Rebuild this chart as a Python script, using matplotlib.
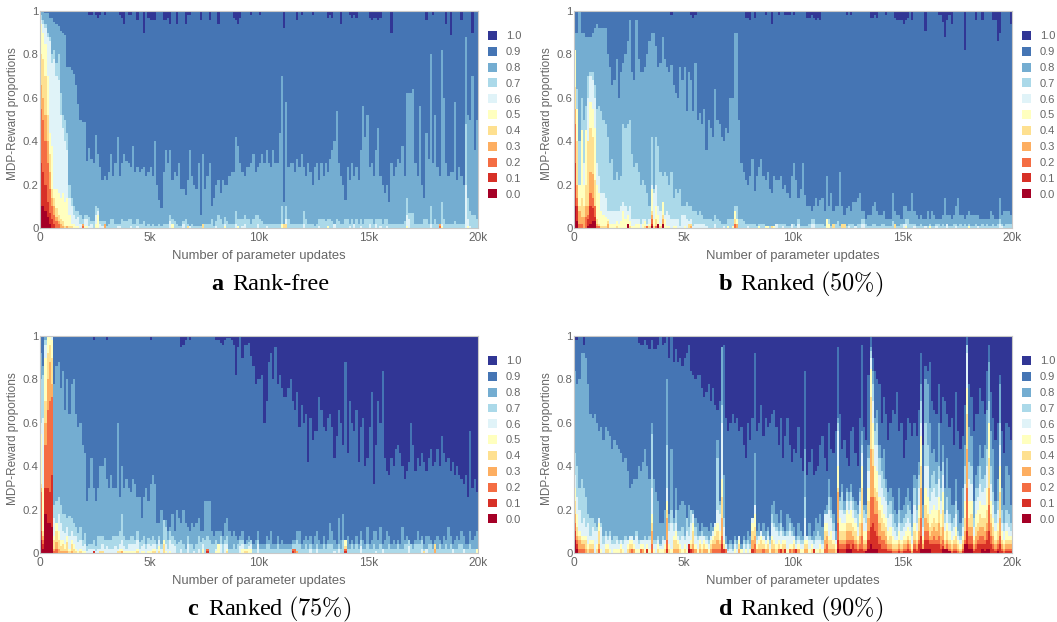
import numpy as np
import matplotlib
matplotlib.use("Agg")
import matplotlib.pyplot as plt
from matplotlib.patches import Patch

plt.rcParams['font.family'] = ['Liberation Sans', 'DejaVu Sans']
plt.rcParams['mathtext.fontset'] = 'cm'

LEVELS = ['0.0', '0.1', '0.2', '0.3', '0.4', '0.5', '0.6', '0.7', '0.8', '0.9', '1.0']
COLORS = ['#a50026', '#d73027', '#f46d43', '#fdae61', '#fee090', '#ffffbf',
          '#e0f3f8', '#abd9e9', '#74add1', '#4575b4', '#313695']
X_TICKS = [0, 5000, 10000, 15000, 20000]
X_LABELS = ['0', '5k', '10k', '15k', '20k']
Y_TICKS = [0, 0.2, 0.4, 0.6, 0.8, 1]
Y_LABELS = ['0', '0.2', '0.4', '0.6', '0.8', '1']
N_COLS = 200
STEP = 100


def col(head=(), cols=(), vals=(), default=0):
    out = [default] * N_COLS
    out[:len(head)] = list(head)
    for c, v in zip(cols, vals):
        out[c] = v
    return out


# ---------- panel a: top of each reward band, percent, per 100 updates ----------
a_t09 = col(default=100,
    cols=[22,23,25,26,27,29,36,37,38,40,41,44,47,49,50,51,52,56,57,58,59,62,66,67,68,73,77,81,88,89,90,91,96,100,111,117,119,124,131,132,133,137,141,142,143,144,150,151,152,153,154,155,160,176,179,185,187,192,197],
    vals=[98,98,98,97,98,98,98,97,94,98,98,96,90,97,96,96,96,96,96,97,94,94,94,98,98,96,96,94,97,96,94,97,98,98,92,96,98,98,97,98,97,94,98,97,98,97,97,96,97,97,96,97,90,96,98,94,89,96,90])
a_t08 = [100,100,99,99,97,97,95,94,93,91,90,89,74,74,73,71,66,57,50,49,
         49,31,37,32,30,43,34,28,22,24,22,26,34,24,30,42,24,30,34,31,
         30,28,38,26,28,26,27,28,24,26,28,24,40,20,13,9,26,36,30,36,
         22,26,24,30,18,18,15,22,36,24,20,18,30,6,34,18,24,30,10,14,
         20,22,16,22,20,20,24,26,26,42,38,30,26,24,28,28,30,34,26,28,
         30,34,30,36,30,28,36,30,30,44,70,12,58,28,30,30,26,32,28,34,
         28,24,30,26,20,28,30,22,30,24,30,26,32,36,40,54,30,24,20,13,
         28,22,30,24,28,22,36,56,42,52,28,30,24,36,46,24,20,16,20,12,
         30,24,28,32,30,38,24,62,62,62,64,30,24,56,20,14,44,32,80,30,
         52,28,24,82,60,30,24,26,26,58,22,28,24,20,88,52,50,70,36,50]
a_t07 = [98,96,94,90,88,80,82,76,80,62,52,50,44,20,14,10,8,8,6,4,
         6,6,5,3,3,10,9,3,3,3,1,2,4,4,2,2,2,4,3,3,
         4,4,2,2,4,2,2,3,1,2,1,2,1,1,2,1,2,2,2,6,
         4,3,2,1,1,3,4,2,1,2,1,1,1,1,2,2,2,2,4,1,
         3,6,4,2,5,3,2,2,2,8,4,4,4,6,4,4,2,4,6,6,
         4,3,2,2,2,2,2,2,2,2,10,2,10,4,2,2,2,2,2,2,
         8,4,2,2,2,1,2,4,4,4,3,4,4,3,2,4,3,2,2,4,
         4,2,4,2,4,2,4,2,4,4,4,4,2,4,4,4,2,4,4,2,
         2,2,2,2,2,2,3,14,7,7,7,2,2,2,2,4,4,2,10,2,
         4,2,2,12,4,2,2,2,2,3,2,2,2,2,48,14,8,6,6,4]
a_t06 = col([96,94,92,88,86,76,78,70,68,52,46,40,36,14,10,6,4,5,2,1,4,4,1,2,0,6,8,2,1],
    cols=[35,36,41,44,59,65,68,74,80,84,89,92,93,99,103,110,112,120,127,131,134,141,143,146,150,153,155,158,167,168,178,183,194,195,196],
    vals=[1,1,1,1,3,2,1,1,1,2,2,1,2,2,1,2,4,2,1,1,2,1,2,1,2,2,1,1,6,4,2,2,20,4,1])
a_t05 = col([94,90,85,70,44,38,18,18,16,14,16,12,14,6,2,2,1,1,0,0,1,1,0,0,0,2,6],
    cols=[60,67,74,84,90,110,112,131,167,183,195], vals=[2,1,2,1,1,2,2,1,1,1,1])
a_t04 = col([80,78,70,52,34,18,14,9,6,4,3,1,1,1,1,0,0,0,0,2],
    cols=[29,67,74,111,112,182], vals=[2,1,2,2,2,2])
a_t03 = col([66,60,52,40,26,14,10,5,3,2,1,0,1,0,0,0,0,0,0,2], cols=[29,182], vals=[2,2])
a_t02 = col([55,50,40,30,18,10,6,3,2,0,0,0,0,0,0,0,0,0,0,1], cols=[182], vals=[1])
a_t01 = col([30,26,20,12,7,4,2])
a_t00 = col([10,10,8,5,2])

# ---------- panel b ----------
b_t09 = col(default=100,
    cols=[44,53,54,55,78,79,80,82,87,90,93,96,97,98,100,106,107,108,109,110,111,112,124,126,135,136,137,138,142,146,147,148,149,150,151,152,154,160,166,167,168,169,170,171,172,178,183,186,191,192,193,194,199],
    vals=[98,98,97,98,97,97,96,97,98,94,98,98,98,98,98,97,97,98,97,96,97,96,98,98,97,97,98,97,98,97,96,96,96,94,96,97,96,91,98,98,95,88,96,98,94,82,96,96,96,96,86,90,94])
b_t08 = [90,90,100,90,90,88,88,88,90,92,94,92,92,92,92,80,74,66,68,78,
         60,72,76,80,86,96,72,68,96,78,72,72,74,80,86,90,90,84,74,76,
         88,78,74,72,75,66,62,60,74,68,74,54,72,68,54,76,50,53,48,55,
         36,50,46,42,64,50,48,42,40,46,44,60,60,90,90,50,30,26,22,20,
         24,32,17,24,28,32,24,22,26,18,16,24,22,22,24,18,20,16,14,24,
         30,22,14,18,30,15,10,10,8,10,14,10,13,14,8,24,10,16,8,10,
         10,26,10,6,9,10,8,12,12,14,16,8,8,4,6,6,10,12,8,6,
         6,8,4,4,4,16,8,6,6,4,10,10,8,8,16,8,6,4,6,4,
         4,8,4,8,6,4,4,4,6,14,6,6,4,6,10,14,6,6,4,6,
         8,6,6,6,6,4,4,4,4,4,8,6,4,4,14,6,8,8,8,6]
b_t07 = [65,64,40,60,50,56,70,72,72,66,55,56,54,50,48,42,30,32,22,26,
         22,24,48,46,48,50,34,28,30,26,20,22,20,16,10,42,18,42,38,26,
         24,26,24,20,26,14,18,16,18,10,10,12,10,10,8,8,6,8,6,4,
         4,4,4,3,6,4,3,2,2,2,4,4,4,10,10,4,4,3,2,2,
         2,2,2,1,2,2,2,1,1,1,1,1,1,2,2,2,2,1,1,2,
         2,1,4,1,1,1,1,2,4,4,2,2,2,2,1,2,4,1,1,2,
         3,1,1,1,1,2,2,2,1,2,2,4,4,2,1,1,2,2,1,1,
         2,2,1,1,1,3,2,1,1,2,2,4,4,2,2,2,1,1,2,1,
         1,1,2,1,1,2,2,1,2,1,2,1,1,2,2,1,2,1,2,1,
         2,1,1,2,1,1,2,1,2,1,1,2,1,2,4,2,1,2,2,2]
b_t06 = col([46,44,16,40,30,36,60,70,68,60,30,24,16,16,14,8,8,8,8,8,
             8,10,12,10,8,10,4,4,4,4,2,4,4,2,4,20,16,20,10,8,
             8,6,8,6,4,4,4,4,1,6,6,4,3,4,1,2,2,2,2,2],
    cols=[60,64,68,70,73,74,79,84,88,92,95,99,102,108,109,115,116,125,128,131,132,146,150,151,155,160,165,170,174,184,194,195],
    vals=[1,2,1,1,6,4,1,1,1,2,1,2,2,2,2,1,2,1,1,2,2,1,2,2,1,1,1,2,1,1,2,1])
b_t05 = col([82,55,20,45,20,45,40,58,55,46,20,16,8,6,5,4,2,2,2,3,
             2,3,8,4,6,3,1,1,2,2,0,2,3,1,2,18,4,10,6,2,12,4,1,1,0,1,1],
    cols=[50,52,70,72,73,74,84,87,88,91,115,116,146,151,162,180], vals=[1,1,1,1,8,4,1,1,1,1,4,2,2,1,1,1])
b_t04 = col([65,40,10,14,10,20,40,46,42,22,4,2,1,1,1,3,0,0,0,1,0,0,0,0,1,1,0,0,0,0,0,0,1,1,1,8,1,4,2,1,6],
    cols=[52,53,73,74,90,118,122,123,146], vals=[2,2,4,2,1,2,2,2,2])
b_t03 = col([55,20,8,5,5,10,10,26,25,10,2,1,0,0,0,2,0,0,0,0,0,0,0,0,1,0,0,0,0,0,0,0,0,1,0,6,0,1,1,0,4],
    cols=[53,73,74], vals=[1,2,2])
b_t02 = col([48,14,2,2,0,5,6,16,14,10,1,1,0,0,0,0,0,0,0,0,0,0,0,0,1,0,0,0,0,0,0,0,0,1,0,4,0,1,1,0,2],
    cols=[73], vals=[2])
b_t01 = col([30,10,0,0,0,0,4,10,9,5,0,0,0,0,0,0,0,0,0,0,0,0,0,0,1,0,0,0,0,0,0,0,0,0,0,2,0,0,1,0,2])
b_t00 = col([10,3,0,0,0,0,1,2,3,3], cols=[24,35,38,40], vals=[2,1,2,2])

# ---------- panel c ----------
c_t09 = [100]*24 + [98] + [100]*5 + [98] + [100]*19 + [98] + [100]*9 + [
         100,100,100,100,95,96,98,100,98,100,100,100,100,100,100,100,100,100,100,100,
         98,98,97,96,98,99,99,98,96,82,95,100,90,96,96,97,91,86,78,80,
         80,82,60,70,88,92,80,95,78,82,76,72,72,76,80,70,66,74,58,68,
         60,64,42,62,52,56,56,72,66,58,56,62,64,58,44,54,66,60,50,88,
         46,70,60,56,66,42,58,62,40,44,58,74,32,50,70,60,84,44,38,36,
         44,40,48,50,46,40,34,38,42,60,50,38,44,40,46,42,38,44,48,40,
         42,48,40,54,46,42,44,38,42,36,40,36,34,32,36,26,56,30,34,28]
c_t08 = [92,86,100,100,100,100,78,86,88,76,84,66,80,64,78,80,64,58,60,50,
         46,24,30,44,30,24,30,40,40,44,34,30,36,30,30,60,26,40,30,34,
         30,28,34,32,26,26,16,26,30,24,32,36,32,14,14,20,14,15,10,12,
         18,10,20,16,14,20,14,12,10,14,12,14,16,10,10,24,24,24,10,8,
         10,10,10,8,14,16,10,8,10,8,6,8,10,4,6,8,6,4,6,10,
         4,4,4,8,6,10,4,4,8,4,6,4,4,4,4,6,6,10,10,4,
         6,8,6,8,4,8,10,6,4,8,4,6,14,10,6,4,16,6,18,4,
         8,4,6,4,8,4,10,6,4,12,4,6,10,10,6,12,4,6,10,8,
         4,6,4,6,4,12,6,8,6,4,4,6,10,6,8,4,8,8,6,4,
         6,8,6,4,8,6,12,8,4,6,8,6,10,8,4,4,10,6,8,10]
c_t07 = [80,82,98,100,100,100,22,24,26,22,18,18,16,17,16,14,12,9,12,6,
         9,3,4,4,6,3,8,8,8,6,6,6,6,8,8,8,10,18,8,6,
         6,8,8,6,10,5,6,8,4,7,6,8,6,4,8,4,15,12,6,10,
         8,6,4,5,6,4,2,8,4,4,2,4,8,5,7,6,8,6,4,4,
         6,4,8,4,6,8,2,2,4,2,4,6,6,4,4,5,6,2,2,6,
         2,2,2,4,4,2,2,2,4,2,2,2,2,2,2,4,4,6,4,2,
         2,4,2,4,2,2,4,2,2,4,2,4,4,4,2,2,4,2,6,2,
         2,2,4,2,4,2,6,2,2,4,2,2,4,2,2,4,2,2,2,4,
         2,2,2,4,2,2,4,4,6,4,2,4,4,4,6,2,2,4,4,2,
         2,2,4,2,2,4,2,4,2,2,2,4,4,2,2,2,4,2,2,2]
c_t06 = col([60,62,96,100,100,100,16,14,18,14,10,9,12,8,10,8,8,5,6,3,
             4,1,2,2,2,1,2,2,4,2,3,2,2,2,3,2,4,6,3,2,
             4,4,4,4,6,2,3,4,2,4,3,4,4,2,6,2,4,4,2,6],
    cols=[60,61,64,67,70,72,74,76,80,82,84,85,91,92,95,96,99,115,116,123,126,134,136,146,153,156,168,174,176,188,193],
    vals=[4,3,2,4,1,2,4,2,2,4,4,4,3,4,3,4,4,2,2,2,2,1,2,3,1,2,3,2,2,2,2])
c_t05 = col([55,30,90,100,100,98,8,14,10,6,6,4,8,2,6,4,2,1,2,1,
             1,0,0,0,1,0,0,1,1,0,0,0,0,0,0,1,2,2,1,1,
             1,1,1,1,2,0,1,1,0,1,1,2,2,0,3,0,6,1,0,1],
    cols=[74,76,80,81,85,92,93,94,95,96,115,116,139,175,180,199], vals=[2,1,1,4,2,2,2,2,2,2,1,1,6,1,4,2])
c_t04 = col([32,10,70,92,96,90,6,10,6,3,4,2,5,1,4,2,1,0,1,0,0,0,0,0,0,0,0,1,1,0,0,0,0,0,0,1,1,1,0,0,
             0,0,0,0,1,0,0,0,0,0,0,1,1,0,1,0,4],
    cols=[76,85,93,94,115,116,139,175,180], vals=[1,1,1,1,1,1,3,1,4])
c_t03 = col([30,8,60,80,88,78,2,5,2,1,1,1,1,0,1,0,0,0,0,0,0,0,0,0,1,0,0,0,0,0,0,0,0,0,0,0,0,1,0,0],
    cols=[76,115,116,117,139,180], vals=[1,2,2,1,2,2])
c_t02 = col([28,6,50,66,70,72,1,2,0,0,0,0,0,0,0,0,0,0,0,0,0,0,0,0,1], cols=[76,115,116,139], vals=[2,2,2,2])
c_t01 = col([10,4,30,30,28,36], cols=[24,76,115,139], vals=[1,1,1,1])
c_t00 = col([6,2,18,14,14,12])

# ---------- panel d ----------
d_t09 = [98,98,100,100,96,100,100,100,100,100,100,100,100,100,100,100,100,100,100,100,
         100,100,100,100,100,100,100,100,100,97,96,96,98,96,94,98,94,94,96,100,
         96,97,100,90,100,88,94,88,90,86,90,92,96,84,82,80,82,82,76,72,
         74,78,70,76,68,66,70,95,96,62,56,60,64,60,62,56,58,50,44,60,
         52,62,92,56,60,68,54,62,58,60,64,66,58,50,62,44,54,62,50,42,
         48,46,58,44,38,84,36,42,48,36,38,40,50,54,44,38,60,48,46,56,
         95,64,48,52,44,40,56,58,46,40,62,96,58,52,82,100,90,84,80,78,
         60,72,64,52,60,66,64,74,56,60,44,52,62,60,54,60,54,66,92,50,
         86,84,88,70,66,64,78,60,72,70,64,58,62,50,74,56,48,54,68,100,
         78,72,56,64,64,76,70,64,84,96,74,62,52,60,82,56,46,60,58,52]
d_t08 = [84,78,80,92,92,90,78,64,62,64,60,56,58,52,58,56,54,48,52,50,
         48,46,42,44,38,30,32,34,34,40,38,42,48,40,34,60,34,28,24,14,
         14,20,80,18,48,16,30,20,22,24,22,14,22,16,20,16,14,10,14,12,
         12,10,14,12,12,52,24,95,36,8,4,6,4,8,6,6,4,8,6,10,
         8,10,46,10,14,10,14,10,12,8,22,24,18,14,20,12,10,18,16,14,
         12,8,14,10,8,48,8,14,8,10,16,14,18,12,20,22,34,26,18,10,
         62,26,32,24,30,28,32,26,24,22,30,56,22,22,50,95,84,62,66,50,
         44,48,34,28,30,26,20,18,30,20,22,26,30,24,18,36,34,42,78,22,
         80,78,60,46,48,42,60,38,50,30,44,30,22,22,34,20,14,30,50,96,
         58,54,24,36,40,50,44,50,66,88,56,48,24,34,78,30,22,40,36,22]
d_t07 = [46,40,30,34,30,26,18,16,16,14,12,10,14,8,10,8,10,6,8,8,
         6,4,6,8,4,6,4,6,10,6,6,6,8,6,8,55,6,6,8,4,
         8,6,50,14,20,14,20,10,10,12,8,16,12,20,18,12,8,8,10,8,
         8,6,8,8,8,44,22,68,16,4,2,4,2,6,4,4,2,6,4,6,
         4,6,22,8,8,6,8,6,10,6,18,14,12,10,14,10,8,10,14,10,
         8,6,8,6,6,26,4,8,4,6,8,10,8,6,16,16,26,20,14,6,
         60,24,28,20,28,24,28,24,20,18,28,50,20,18,44,93,78,56,60,44,
         38,34,30,22,24,18,14,12,20,14,16,18,22,20,12,30,20,36,70,16,
         60,50,30,36,38,32,40,30,42,18,26,18,14,16,24,10,8,16,40,96,
         42,40,16,30,30,40,34,36,48,70,40,28,18,24,60,20,14,20,18,14]
d_t06 = [36,26,20,14,16,12,14,8,12,10,10,16,12,4,8,6,8,4,4,6,
         4,6,4,6,6,8,8,6,8,4,6,6,6,6,6,30,4,4,6,3,
         6,6,30,10,14,10,14,8,6,8,6,10,8,14,18,8,6,8,8,8,
         6,4,8,10,14,20,18,60,12,4,1,2,1,4,2,8,2,4,2,4,
         2,16,22,6,8,10,8,6,8,4,14,12,10,8,10,8,8,8,10,8,
         8,4,6,4,4,16,8,6,6,4,6,6,6,4,18,18,20,16,10,6,
         56,20,20,18,24,20,24,20,16,12,24,46,16,14,38,90,70,50,50,36,
         30,26,24,16,18,12,10,8,14,10,12,14,16,14,8,22,14,30,60,12,
         40,40,24,28,30,26,34,24,36,14,20,14,10,12,18,8,6,12,32,92,
         34,32,12,24,26,32,28,30,40,60,32,22,14,20,50,14,10,14,12,10]
d_t05 = [30,18,10,8,8,8,4,6,6,0,4,14,2,0,4,4,2,0,2,2,
         2,4,2,0,4,6,6,4,2,2,4,4,2,4,2,18,2,0,4,2,
         2,4,24,4,2,8,10,6,4,2,4,2,2,6,14,4,2,6,4,6,
         4,2,6,8,12,14,10,34,6,2,0,0,0,2,0,6,2,0,2,0,
         2,14,18,4,6,8,6,4,6,2,8,6,4,6,4,6,6,2,4,4,
         6,2,4,2,2,6,6,2,4,2,2,2,4,2,14,14,8,10,6,4,
         40,16,14,14,20,18,20,16,14,8,18,40,10,10,30,85,60,40,38,26,
         22,18,16,10,12,8,6,6,10,6,8,10,12,10,4,14,10,22,54,8,
         30,26,18,20,22,20,26,18,28,10,14,10,6,8,12,6,4,8,24,76,
         24,24,8,18,20,24,22,22,30,60,24,16,10,14,40,10,6,10,8,8]
d_t04 = [24,12,8,6,6,6,2,4,4,0,2,10,0,0,2,2,0,0,0,0,
         0,2,0,0,2,4,4,2,0,0,2,2,0,2,0,14,0,0,2,0,
         0,2,20,2,0,6,6,4,2,0,2,0,0,4,10,2,0,4,2,4,
         2,0,4,6,8,10,6,26,4,2,0,0,0,0,0,4,0,0,0,0,
         0,10,12,2,4,6,4,2,4,0,6,4,2,4,2,4,4,0,2,2,
         4,0,2,0,0,4,4,0,2,0,0,0,2,0,10,10,6,6,4,2,
         30,10,10,10,14,14,14,12,10,6,14,30,6,6,24,72,48,30,28,20,
         16,14,12,6,8,4,4,4,6,4,6,6,8,6,2,10,6,16,40,6,
         22,18,12,14,16,14,20,12,20,6,10,6,4,6,8,4,2,6,16,64,
         16,18,6,12,14,18,16,16,20,44,18,12,6,10,28,6,4,6,6,6]
d_t03 = [18,8,6,4,4,2,0,2,2,0,0,4,0,0,0,0,0,0,0,0,
         0,0,0,0,0,2,2,2,0,0,2,2,0,2,0,10,0,0,0,0,
         0,0,16,0,0,2,2,2,0,0,0,0,0,2,4,2,0,2,0,2,
         2,0,2,4,4,6,4,16,2,2,0,0,0,0,0,2,0,0,0,0,
         0,6,8,2,2,2,2,2,2,0,2,2,0,2,2,2,2,0,2,2,
         2,0,2,0,0,2,2,0,0,0,0,0,0,0,6,8,2,2,2,0,
         28,6,6,6,10,10,10,8,6,4,8,14,4,4,16,48,40,26,24,14,
         10,10,8,4,4,2,2,2,4,2,4,4,6,4,1,6,4,10,30,4,
         16,14,8,10,12,10,14,8,12,4,6,4,2,4,4,2,1,4,10,48,
         12,12,4,8,10,12,12,10,14,30,14,8,4,6,16,4,2,4,4,4]
d_t02 = [14,6,2,2,2,0,0,0,0,0,0,2,0,0,0,0,0,0,0,0,
         0,0,0,0,0,0,2,0,0,0,2,0,0,2,0,4,0,0,0,0,
         0,0,6,0,0,0,0,0,0,0,0,0,0,2,2,0,0,0,0,0,
         0,0,0,2,2,2,2,8,2,2,0,0,0,0,0,0,0,0,0,0,
         0,2,4,0,0,0,2,0,0,0,0,0,0,2,2,0,2,0,2,0,
         2,0,0,0,0,0,0,0,0,2,0,0,0,0,2,4,0,0,0,0,
         14,4,4,4,6,6,6,6,4,2,4,8,2,2,10,26,26,18,18,8,
         6,6,4,2,2,1,1,1,2,1,2,2,4,2,0,4,2,6,16,2,
         10,10,6,6,8,6,8,4,6,2,4,2,1,2,2,1,0,2,6,30,
         8,8,2,4,6,8,8,6,10,22,8,4,2,4,8,2,1,2,2,2]
d_t01 = col([10,4],
    cols=[33,42,52,53,67,68,81,94,96,101,109]+list(range(120,200)),
    vals=[2,2,4,2,4,2,2,2,2,2,2,
          6,2,2,2,4,4,2,4,2,1,2,2,1,1,6,12,14,10,8,4,
          2,2,2,1,1,0,0,0,1,0,1,1,2,1,0,2,1,4,8,1,
          6,6,4,4,4,4,4,2,3,1,2,1,0,1,1,0,0,1,3,10,
          4,4,1,2,4,4,4,4,6,10,4,2,1,2,4,1,0,1,1,1])
d_t00 = col([6,2], cols=[52,120,124,125,126,133,134,135,136,137,138,158,159,160,161,162,168,169,170,171,178,179,180,181,186,187,188,189,193],
    vals=[2,2,2,2,2,1,2,4,2,2,2,2,2,2,2,2,2,2,2,1,4,4,2,2,2,1,2,2,1])

PANELS = [
    ('a', 'Rank-free', [a_t00,a_t01,a_t02,a_t03,a_t04,a_t05,a_t06,a_t07,a_t08,a_t09]),
    ('b', r'Ranked $(50\%)$', [b_t00,b_t01,b_t02,b_t03,b_t04,b_t05,b_t06,b_t07,b_t08,b_t09]),
    ('c', r'Ranked $(75\%)$', [c_t00,c_t01,c_t02,c_t03,c_t04,c_t05,c_t06,c_t07,c_t08,c_t09]),
    ('d', r'Ranked $(90\%)$', [d_t00,d_t01,d_t02,d_t03,d_t04,d_t05,d_t06,d_t07,d_t08,d_t09]),
]

W, H = 1057, 622
fig = plt.figure(figsize=(W/100, H/100), dpi=100)
BOX = [(40, 11), (574, 11), (40, 336), (574, 336)]
AW, AH = 438, 217
CAP = [(223, 232, 290), (732, 740, 290), (198, 208, 615), (732, 740, 615)]
GREY = '#666666'
edges = np.arange(N_COLS + 1) * STEP

for (letter, caption, tops), (x0, y0), (xb, xc, yc) in zip(PANELS, BOX, CAP):
    ax = fig.add_axes([x0/W, 1-(y0+AH)/H, AW/W, AH/H])
    t = np.maximum.accumulate(np.array(tops, dtype=float), axis=0) / 100
    ax.fill_between([0, 20000], 0, 1, color=COLORS[10], lw=0)
    for i in range(9, -1, -1):
        y = np.append(t[i], t[i][-1])
        ax.fill_between(edges, 0, y, step='post', color=COLORS[i], lw=0)
    ax.set_xlim(0, 20000)
    ax.set_ylim(0, 1)
    ax.set_xticks(X_TICKS, X_LABELS)
    ax.set_yticks(Y_TICKS, Y_LABELS)
    ax.tick_params(length=0, colors=GREY, labelsize=8.6, pad=3)
    ax.tick_params(axis='y', labelsize=8.2, pad=1)
    for s in ax.spines.values():
        s.set_color('#c8c8c8')
        s.set_linewidth(0.8)
    ax.set_xlabel('Number of parameter updates', fontsize=9.4, color=GREY, labelpad=4)
    ax.set_ylabel('MDP-Reward proportions', fontsize=8.5, color=GREY)
    ax.yaxis.set_label_coords(-0.047, 0.525)
    handles = [Patch(facecolor=COLORS[i], edgecolor='none') for i in range(10, -1, -1)]
    ax.legend(handles, LEVELS[::-1], loc='upper left',
              bbox_to_anchor=((x0+AW+10)/W, 1-(y0+20)/H), bbox_transform=fig.transFigure,
              frameon=False, fontsize=8, labelcolor=GREY, handlelength=0.85, handleheight=0.85,
              handletextpad=0.75, labelspacing=0.5, borderpad=0, borderaxespad=0)
    fig.text(xb/W, 1-yc/H, letter, ha='right', va='baseline', fontsize=17.5,
             family='Liberation Serif', weight='bold', color='black')
    fig.text(xc/W, 1-yc/H, caption, ha='left', va='baseline', fontsize=17.5,
             family='Liberation Serif', color='black')

fig.savefig('out.png', dpi=100)
